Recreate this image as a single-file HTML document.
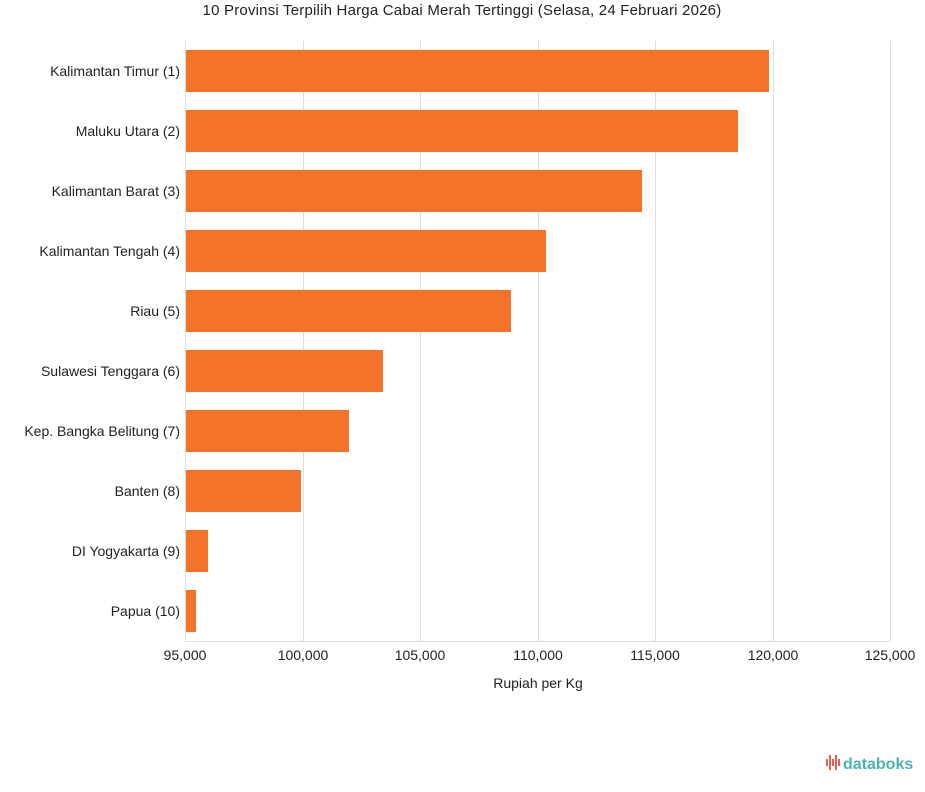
<!DOCTYPE html>
<html><head><meta charset="utf-8"><style>
html,body{margin:0;padding:0;background:#fff;width:925px;height:792px;overflow:hidden}
svg text{font-family:"Liberation Sans",Arial,sans-serif;fill:#222}
</style></head><body>
<svg width="925" height="792" xmlns="http://www.w3.org/2000/svg">
<text x="462" y="15" text-anchor="middle" font-size="15" letter-spacing="0.2">10 Provinsi Terpilih Harga Cabai Merah Tertinggi (Selasa, 24 Februari 2026)</text>
<g stroke="#dddddd" stroke-width="1">
<line x1="185.5" y1="41" x2="185.5" y2="641"/>
<line x1="303.5" y1="41" x2="303.5" y2="641"/>
<line x1="420.5" y1="41" x2="420.5" y2="641"/>
<line x1="538.5" y1="41" x2="538.5" y2="641"/>
<line x1="655.5" y1="41" x2="655.5" y2="641"/>
<line x1="773.5" y1="41" x2="773.5" y2="641"/>
<line x1="890.5" y1="41" x2="890.5" y2="641"/>
<line x1="185" y1="641.5" x2="890" y2="641.5"/>
</g>
<g fill="#f37329">
<rect x="186" y="50" width="583" height="42"/>
<rect x="186" y="110" width="552" height="42"/>
<rect x="186" y="170" width="456" height="42"/>
<rect x="186" y="230" width="360" height="42"/>
<rect x="186" y="290" width="325" height="42"/>
<rect x="186" y="350" width="197" height="42"/>
<rect x="186" y="410" width="163" height="42"/>
<rect x="186" y="470" width="115" height="42"/>
<rect x="186" y="530" width="22" height="42"/>
<rect x="186" y="590" width="10" height="42"/>
</g>
<g font-size="14" text-anchor="end">
<text x="180" y="76">Kalimantan Timur (1)</text>
<text x="180" y="136">Maluku Utara (2)</text>
<text x="180" y="196">Kalimantan Barat (3)</text>
<text x="180" y="256">Kalimantan Tengah (4)</text>
<text x="180" y="316">Riau (5)</text>
<text x="180" y="376">Sulawesi Tenggara (6)</text>
<text x="180" y="436">Kep. Bangka Belitung (7)</text>
<text x="180" y="496">Banten (8)</text>
<text x="180" y="556">DI Yogyakarta (9)</text>
<text x="180" y="616">Papua (10)</text>
</g>
<g font-size="14" text-anchor="middle">
<text x="185" y="660">95,000</text>
<text x="303" y="660">100,000</text>
<text x="420" y="660">105,000</text>
<text x="538" y="660">110,000</text>
<text x="655" y="660">115,000</text>
<text x="773" y="660">120,000</text>
<text x="890" y="660">125,000</text>
<text x="538" y="688">Rupiah per Kg</text>
</g>
<g fill="#e8604c">
<rect x="826" y="759" width="2" height="7"/>
<rect x="829" y="755" width="2" height="15"/>
<rect x="832" y="759" width="2" height="7"/>
<rect x="835" y="755" width="2" height="15"/>
<rect x="838" y="759" width="2" height="7"/>
</g>
<text x="843" y="769" font-size="16" font-weight="bold" style="fill:#4bb3ad">databoks</text>
</svg>
</body></html>
